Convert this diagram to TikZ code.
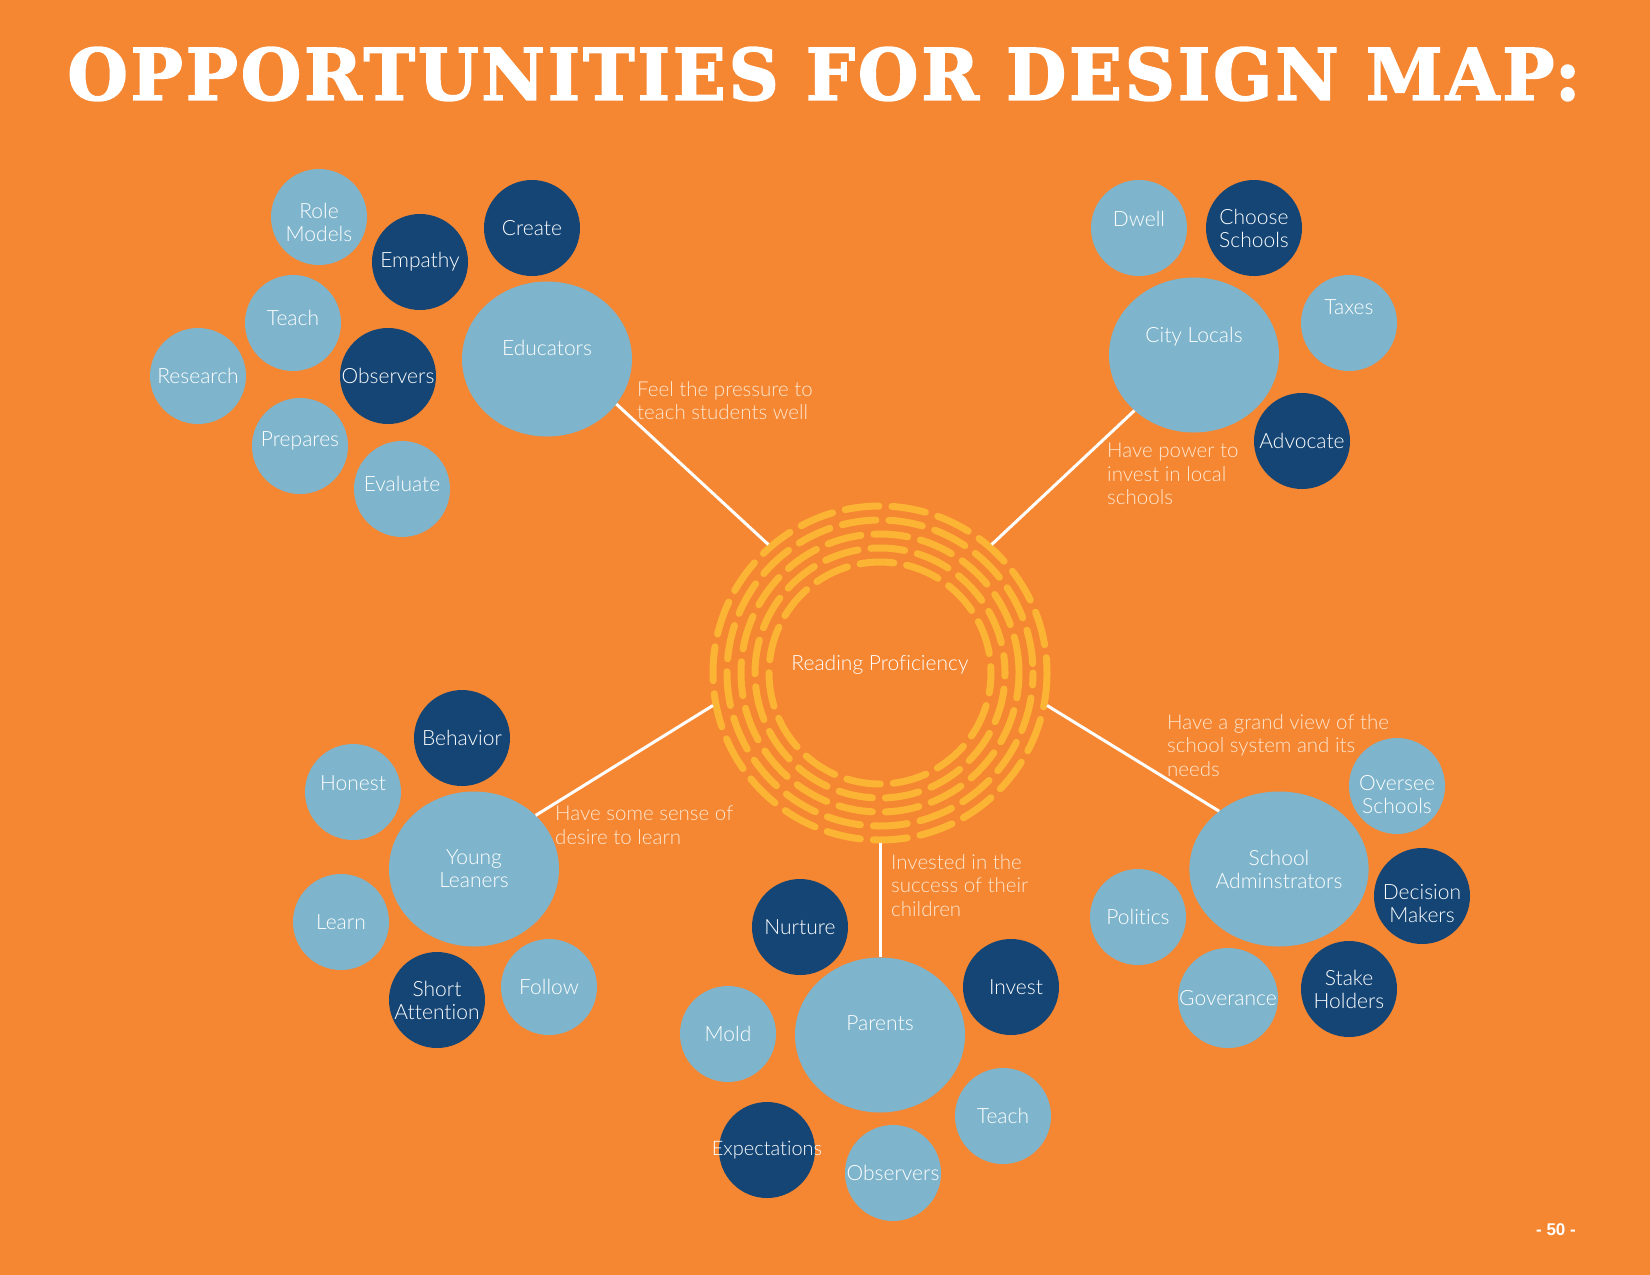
\documentclass[tikz,border=0pt]{standalone}
\usepackage{fontspec}
\setmainfont{Lato Light}[Ligatures={NoCommon}]
\newfontfamily\numfont{Liberation Sans}
\newfontfamily\titlefont{DejaVu Serif}[LetterSpace=4, FakeBold=2]
\usepackage{xcolor}
\usepackage{graphicx}
\usepackage{tikz}
\usetikzlibrary{shapes.geometric}

\definecolor{pageorange}{RGB}{245,134,50}
\definecolor{liteblue}{RGB}{126,181,204}
\definecolor{navy}{RGB}{20,69,117}
\definecolor{ringgold}{RGB}{251,180,52}
\definecolor{cream}{RGB}{253,232,210}

\begin{document}
\begin{tikzpicture}[
  x=1pt, y=-1pt,
  bub/.style={circle, fill=liteblue, minimum size=96pt, inner sep=0pt, text=white, align=center, font=\fontsize{21}{23}\selectfont},
  dbub/.style={bub, fill=navy},
  hub/.style={ellipse, fill=liteblue, minimum width=170pt, minimum height=155pt, inner sep=0pt, text=white, align=center, font=\fontsize{21}{23}\selectfont},
  note/.style={anchor=north west, align=left, inner sep=0pt, text=cream, font=\fontsize{20.5}{23.5}\selectfont},
  link/.style={draw=white, line width=3pt},
  ringdash/.style={draw=ringgold, line width=7pt, line cap=round, dash pattern=on 34pt off 13pt},
  lift/.style={text depth=#1},
  drop/.style={text height=#1},
]

% page
\fill[pageorange] (0,0) rectangle (1650,1275);
\node[inner sep=0pt, text=white] (title) at (824,74) {\resizebox{1513pt}{53pt}{\titlefont\bfseries OPPORTUNITIES FOR DESIGN MAP:}};
\node[inner sep=0pt, text=white, font=\numfont\fontsize{17}{20}\selectfont\bfseries] (pg) at (1556,1230) {- 50 -};

% --- Core ---
\node[circle, minimum size=340pt, inner sep=0pt, text=white, lift=20pt, font=\fontsize{21}{23}\selectfont] (core) at (880,673) {Reading Proficiency};
\foreach \r/\ph in {167/0, 153/22, 139/9, 125/31, 111/14}
  \draw[ringdash, dash phase=\ph pt] (core.center) circle[radius=\r];

% --- Educators ---
\node[hub, lift=22pt] (edu) at (547,359) {Educators};
\node[bub, drop=49pt] (e1) at (319,217) {Role\\Models};
\node[dbub] (e2) at (420,262) {Empathy};
\node[dbub] (e3) at (532,228) {Create};
\node[bub, lift=10pt] (e4) at (293,323) {Teach};
\node[bub] (e5) at (198,376) {Research};
\node[dbub] (e6) at (388,376) {Observers};
\node[bub, lift=14pt] (e7) at (300,446) {Prepares};
\node[bub, lift=10pt] (e8) at (402,489) {Evaluate};
\node[note] (edunote) at (637,381) {Feel the pressure to\\teach students well};

% --- City Locals ---
\node[hub, lift=40pt] (city) at (1194,355) {City Locals};
\node[bub, lift=18pt] (c1) at (1139,228) {Dwell};
\node[dbub] (c2) at (1254,228) {Choose\\Schools};
\node[bub, lift=32pt] (c3) at (1349,323) {Taxes};
\node[dbub] (c4) at (1302,441) {Advocate};
\node[note] (citynote) at (1107,443) {Have power to\\invest in local\\schools};

% --- Young Leaners ---
\node[hub] (young) at (474,869) {Young\\Leaners};
\node[dbub] (y1) at (462,738) {Behavior};
\node[bub, lift=18pt] (y2) at (353,792) {Honest};
\node[bub] (y3) at (341,922) {Learn};
\node[dbub] (y4) at (437,1000) {Short\\Attention};
\node[bub] (y5) at (549,987) {Follow};
\node[note] (youngnote) at (555,806) {Have some sense of\\desire to learn};

% --- Parents ---
\node[hub, lift=24pt] (par) at (880,1035) {Parents};
\node[dbub] (p1) at (800,927) {Nurture};
\node[dbub] (p2) at (1011,987) {\hspace{10pt}Invest};
\node[bub] (p3) at (728,1034) {Mold};
\node[bub] (p4) at (1003,1116) {Teach};
\node[dbub, font=\fontsize{20}{23}\selectfont] (p5) at (767,1150) {\makebox[88pt]{Expectations}};
\node[bub] (p6) at (893,1173) {Observers};
\node[note] (parnote) at (891,854) {Invested in the\\success of their\\children};

% --- School Adminstrators ---
\node[hub] (admin) at (1279,869) {School\\Adminstrators};
\node[bub, drop=55pt] (a1) at (1397,786) {Oversee\\Schools};
\node[dbub, drop=53pt] (a2) at (1422,896) {Decision\\Makers};
\node[bub] (a3) at (1138,917) {Politics};
\node[bub, minimum size=100pt] (a4) at (1228,998) {Goverance};
\node[dbub] (a5) at (1349,989) {Stake\\Holders};
\node[note] (adminnote) at (1167,714) {Have a grand view of the\\school system and its\\needs};

% links
\draw[link] (edu.-33) -- (core.131);
\draw[link] (city.223) -- (core.49);
\draw[link] (young.41) -- (core.191);
\draw[link] (admin.136) -- (core.-11);
\draw[link] (core.270) -- (par.90);

\end{tikzpicture}
\end{document}
